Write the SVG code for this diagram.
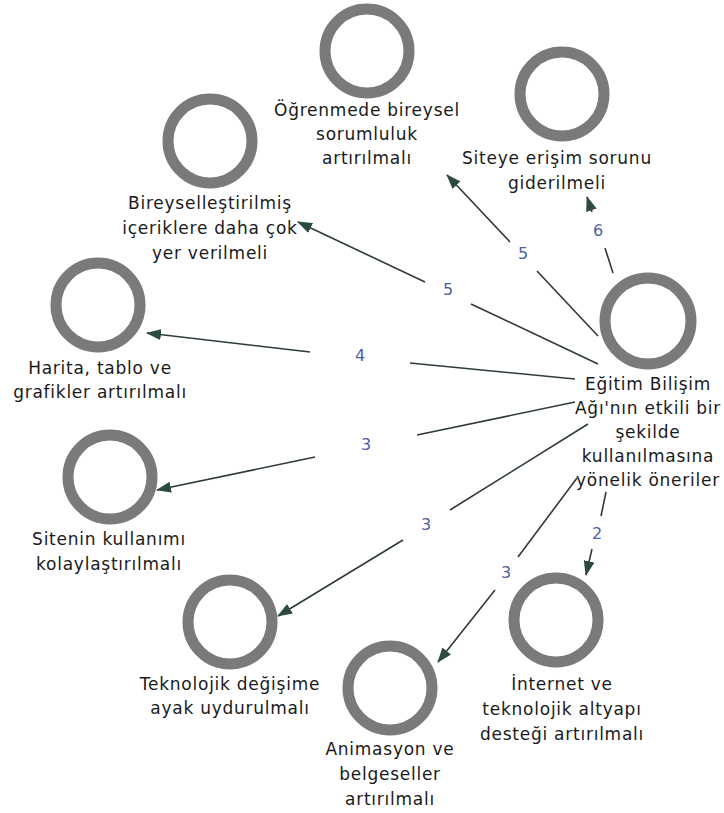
<svg xmlns="http://www.w3.org/2000/svg" width="724" height="813" viewBox="0 0 724 813">
<style>
.ring{fill:none;stroke:#7a7a7a;stroke-width:11}
.t{font-family:"DejaVu Sans",Verdana,sans-serif;font-size:17px;letter-spacing:0.75px;fill:#1a1a1a;text-anchor:middle}
.e{fill:none;stroke:#2e3b36;stroke-width:1.6;marker-end:url(#ah)}
.l{font-family:"DejaVu Sans",Verdana,sans-serif;font-size:16px;fill:#4d5fa8;text-anchor:middle}
</style>
<defs>
<marker id="ah" markerUnits="userSpaceOnUse" markerWidth="15" markerHeight="11" refX="14" refY="5.5" orient="auto" viewBox="0 0 15 11">
<path d="M0,0 L15,5.5 L0,11 z" fill="#2b4a41"/>
</marker>
</defs>
<rect width="724" height="813" fill="#ffffff"/>
<g id="connectors">
<path class="e" d="M598,336 L537,271 M510,242 L447,175"/>
<path class="e" d="M598,364 L471,304 M425,282 L298,222"/>
<path class="e" d="M575,379 L410,363 M310,352 L147,333"/>
<path class="e" d="M575,402 L417,435 M315,457 L157,490"/>
<path class="e" d="M588,424 L450,510 M403,540 L278,616"/>
<path class="e" d="M577,478 L518,557 M495,590 L438,662"/>
<path class="e" d="M606,492 L601,516 M592,549 L586,575"/>
<path class="e" d="M613,273 L605,248 M592,212 L587,197"/>
<text class="l" x="523" y="259">5</text>
<text class="l" x="448" y="295">5</text>
<text class="l" x="360" y="361">4</text>
<text class="l" x="366" y="450">3</text>
<text class="l" x="426" y="530">3</text>
<text class="l" x="506" y="578">3</text>
<text class="l" x="597" y="539">2</text>
<text class="l" x="598" y="236">6</text>
</g>
<g id="center">
<circle class="ring" cx="648" cy="321" r="43"/>
<text class="t" x="648" y="390">Eğitim Bilişim</text>
<text class="t" x="648" y="414">Ağı'nın etkili bir</text>
<text class="t" x="648" y="438">şekilde</text>
<text class="t" x="648" y="462">kullanılmasına</text>
<text class="t" x="648" y="486">yönelik öneriler</text>
</g>
<g id="n-ogrenmede">
<circle class="ring" cx="367" cy="51" r="42"/>
<text class="t" x="367" y="116">Öğrenmede bireysel</text>
<text class="t" x="367" y="140">sorumluluk</text>
<text class="t" x="367" y="164">artırılmalı</text>
</g>
<g id="n-siteye">
<circle class="ring" cx="562" cy="94" r="42"/>
<text class="t" x="557" y="164">Siteye erişim sorunu</text>
<text class="t" x="557" y="189">giderilmeli</text>
</g>
<g id="n-bireysel">
<circle class="ring" cx="210" cy="141" r="42"/>
<text class="t" x="210" y="209">Bireyselleştirilmiş</text>
<text class="t" x="210" y="234">içeriklere daha çok</text>
<text class="t" x="210" y="259">yer verilmeli</text>
</g>
<g id="n-harita">
<circle class="ring" cx="98" cy="305" r="42"/>
<text class="t" x="100" y="374">Harita, tablo ve</text>
<text class="t" x="100" y="398">grafikler artırılmalı</text>
</g>
<g id="n-sitenin">
<circle class="ring" cx="110" cy="477" r="42"/>
<text class="t" x="109" y="545">Sitenin kullanımı</text>
<text class="t" x="109" y="570">kolaylaştırılmalı</text>
</g>
<g id="n-teknolojik">
<circle class="ring" cx="230" cy="622" r="42"/>
<text class="t" x="230" y="690">Teknolojik değişime</text>
<text class="t" x="230" y="714">ayak uydurulmalı</text>
</g>
<g id="n-animasyon">
<circle class="ring" cx="390" cy="688" r="42"/>
<text class="t" x="390" y="755">Animasyon ve</text>
<text class="t" x="390" y="780">belgeseller</text>
<text class="t" x="390" y="805">artırılmalı</text>
</g>
<g id="n-internet">
<circle class="ring" cx="556" cy="620" r="42"/>
<text class="t" x="562" y="690">İnternet ve</text>
<text class="t" x="562" y="715">teknolojik altyapı</text>
<text class="t" x="562" y="740">desteği artırılmalı</text>
</g>
</svg>
